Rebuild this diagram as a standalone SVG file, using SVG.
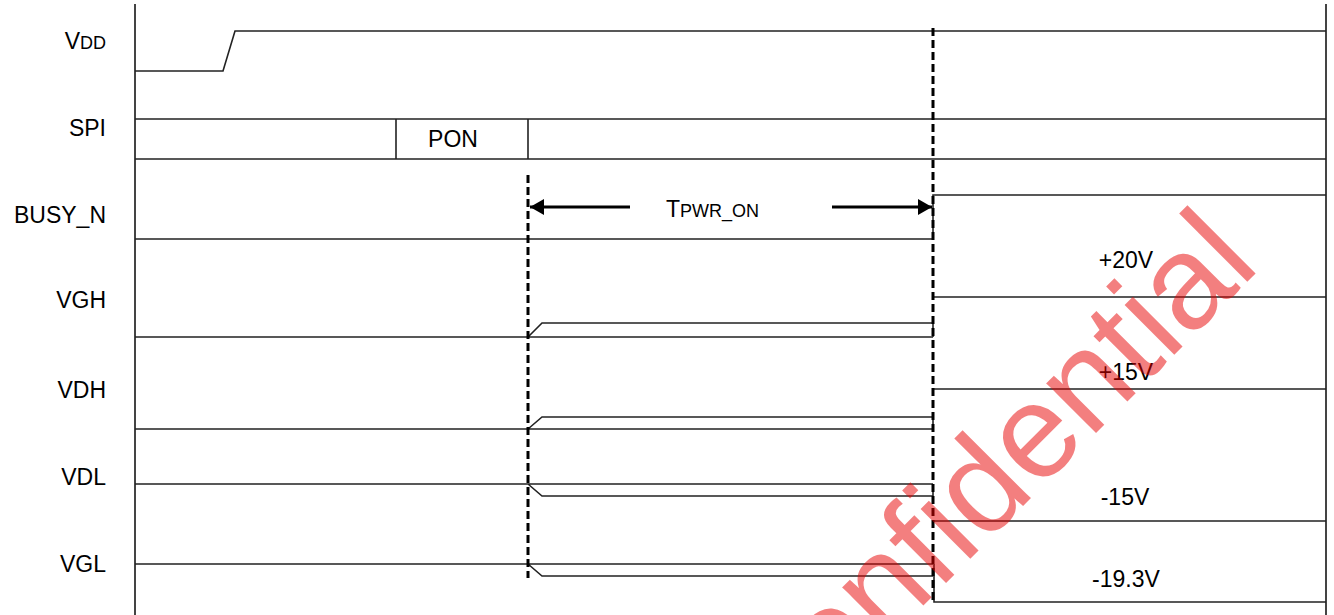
<svg xmlns="http://www.w3.org/2000/svg" width="1334" height="615" viewBox="0 0 1334 615">
<style>
.sig{fill:none;stroke:#222;stroke-width:1.6}
.axis{fill:none;stroke:#444;stroke-width:2}
.dash{fill:none;stroke:#000;stroke-width:3;stroke-dasharray:8 4}
.lbl{font-family:"Liberation Sans",Arial,sans-serif;font-size:23px;fill:#000}
.sm{font-size:18px}
.arr{fill:none;stroke:#000;stroke-width:3}
</style>
<defs>
<marker id="ah" viewBox="0 0 14 16" refX="14" refY="8" markerWidth="14" markerHeight="16" markerUnits="userSpaceOnUse" orient="auto">
<path d="M0,0 L14,8 L0,16 Z" fill="#000"/>
</marker>
</defs>
<rect width="1334" height="615" fill="#fff"/>
<g id="axes">
<line class="axis" x1="135" y1="4" x2="135" y2="615"/>
<line class="axis" x1="1326" y1="4" x2="1326" y2="615"/>
</g>
<g id="vdd">
<text class="lbl" x="106" y="49" text-anchor="end">V<tspan class="sm">DD</tspan></text>
<path class="sig" d="M135,71 H223 L235,31 H1326"/>
</g>
<g id="spi">
<text class="lbl" x="106" y="136" text-anchor="end">SPI</text>
<path class="sig" d="M135,119 H1326 M135,159 H1326 M396,119 V159 M528,119 V159"/>
<text class="lbl" x="453" y="147" text-anchor="middle">PON</text>
</g>
<g id="busy_n">
<text class="lbl" x="106" y="223" text-anchor="end">BUSY_N</text>
<path class="sig" d="M135,239 H933 V195 H1326"/>
</g>
<g id="vgh">
<text class="lbl" x="106" y="308" text-anchor="end">VGH</text>
<path class="sig" d="M135,337 H933 M528,337 L542,323 H933 V337 M933,297 H1326"/>
<text class="lbl" x="1126" y="268" text-anchor="middle">+20V</text>
</g>
<g id="vdh">
<text class="lbl" x="106" y="398" text-anchor="end">VDH</text>
<path class="sig" d="M135,429 H933 M528,429 L542,417 H933 V429 M933,389 H1326"/>
<text class="lbl" x="1126" y="380" text-anchor="middle">+15V</text>
</g>
<g id="vdl">
<text class="lbl" x="106" y="485" text-anchor="end">VDL</text>
<path class="sig" d="M135,484 H933 M528,484 L542,496 H933 V484 M933,521 H1326"/>
<text class="lbl" x="1125" y="505" text-anchor="middle">-15V</text>
</g>
<g id="vgl">
<text class="lbl" x="106" y="572" text-anchor="end">VGL</text>
<path class="sig" d="M135,564 H933 M528,564 L542,576 H933 M934,564 V602 H1326"/>
<text class="lbl" x="1126" y="587" text-anchor="middle">-19.3V</text>
</g>
<g id="connectors">
<line class="dash" x1="528" y1="175" x2="528" y2="578"/>
<line class="dash" x1="933" y1="28" x2="933" y2="600"/>
<line class="arr" x1="630" y1="207" x2="530" y2="207" marker-end="url(#ah)"/>
<line class="arr" x1="832" y1="207" x2="932" y2="207" marker-end="url(#ah)"/>
<text class="lbl" x="666" y="217">T<tspan class="sm">PWR_ON</tspan></text>
</g>
<g id="watermark">
<text x="0" y="0" transform="translate(1262,267) rotate(-45)" text-anchor="end" font-family="Liberation Sans,Arial,sans-serif" font-size="133" fill="#e80000" fill-opacity="0.5">Confidential</text>
</g>
</svg>
